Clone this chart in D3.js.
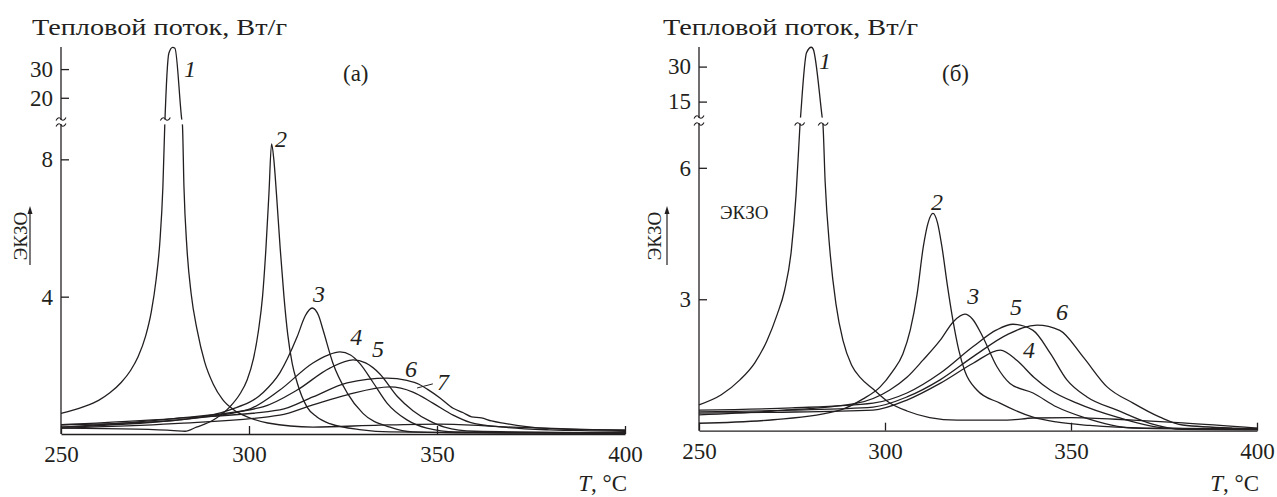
<!DOCTYPE html>
<html>
<head>
<meta charset="utf-8">
<script src="https://cdn.jsdelivr.net/npm/d3@7"></script>
<style>
body { margin: 0; background: #fff; }
text { font-family: "Liberation Serif", "Times New Roman", serif; fill: #231f20; }
</style>
</head>
<body>
<svg id="chart" width="1277" height="497"></svg>
<script>
// axis ticks
const tempTicks = [250, 300, 350, 400]
const fluxTicksA = [4, 8, 20, 30]
const fluxTicksB = [3, 6, 15, 30]

// panel (а): [T, heat flow W/g]
const curveA1 = [[250,0.6],[255.9,0.79],[260,0.98],[263,1.2],[266,1.5],[268.5,1.85],[270.5,2.25],[272.5,2.85],[274,3.55],[275.3,4.5],[276.3,5.6],[277.1,7.2],[277.6,9],[278.7,35.6],[279.7,37.6],[280.3,37.3],[282.1,12.6],[282.3,9],[282.7,7.2],[283.5,5.4],[284.6,4.1],[286.2,3.03],[288.2,2.1],[290.5,1.45],[293,1.0],[296,0.7],[300,0.48],[305,0.32],[317,0.2],[334.8,0.26],[350.8,0.29],[370,0.2],[400,0.1]]
const curveA2 = [[250,0.17],[270,0.14],[280,0.1],[283,0.08],[286,0.2],[290.4,0.4],[294.9,0.79],[297.5,1.15],[299.5,1.57],[301.2,2.2],[302.5,3.0],[303.6,4.0],[304.5,5.4],[305.3,7.0],[306,8.45],[306.6,8.0],[307.3,7.0],[308.3,5.4],[309.3,4.0],[310.3,2.9],[311.5,2.05],[312.8,1.5],[315.4,0.79],[318,0.5],[321.5,0.3],[330,0.12],[337.5,0.06],[360,0.04],[400,0.03]]
const curveA3 = [[250,0.27],[270,0.33],[281.6,0.41],[294.9,0.7],[303.7,1.2],[308.2,1.78],[312.8,2.83],[315,3.45],[316.8,3.67],[318.5,3.45],[319.7,3.03],[322.3,2.07],[326.1,1.2],[330.3,0.6],[337.5,0.2],[343.6,0.06],[360,0.03],[400,0.02]]
const curveA4 = [[250,0.2],[280,0.4],[299.5,0.7],[308.2,1.28],[317,2.07],[321,2.3],[324.2,2.39],[327,2.3],[329.5,2.05],[333,1.5],[336.7,0.9],[342,0.41],[347.3,0.17],[355,0.06],[400,0.03]]
const curveA5 = [[250,0.2],[280,0.45],[303.7,0.79],[312.8,1.28],[321.5,1.92],[327.7,2.16],[331,2.07],[334.8,1.75],[339.4,1.1],[343.6,0.68],[348,0.38],[352,0.2],[360,0.08],[400,0.03]]
const curveA6 = [[250,0.27],[280,0.45],[308.2,0.7],[317,1.08],[326.1,1.49],[336.7,1.63],[342,1.56],[345.2,1.45],[347.5,1.3],[350.8,1.05],[354.3,0.75],[357,0.62],[359.2,0.5],[361.8,0.47],[364.5,0.38],[368,0.31],[376.6,0.18],[388,0.13],[400,0.12]]
const curveA7 = [[250,0.17],[280,0.3],[308.2,0.55],[317,0.85],[326.1,1.14],[337.5,1.37],[343.6,1.22],[348.9,0.9],[354.3,0.55],[358.8,0.34],[367.6,0.2],[380,0.12],[400,0.08]]

// panel (б)
const curveB1 = [[250,0.59],[256,0.82],[261,1.16],[265,1.55],[268.3,2.06],[271,2.65],[273,3.2],[274.8,4.1],[276.1,5.4],[276.9,6.6],[277.2,7.4],[277.3,8.4],[278.9,35.9],[280.2,38.3],[280.7,37.5],[283.1,8.4],[283.3,7.2],[283.9,5.7],[285.2,4.1],[286.8,2.9],[288.7,2.06],[291,1.5],[293.5,1.2],[296.8,0.95],[301,0.65],[305.9,0.45],[312,0.3],[319.4,0.24],[332.8,0.24],[339.8,0.29],[350,0.3],[366.7,0.24],[380,0.18],[400,0.06]]
const curveB2 = [[250,0.17],[270,0.25],[287.9,0.47],[294,0.72],[298.7,1.0],[302,1.35],[304.8,1.75],[306.8,2.3],[308.6,3.1],[310.3,4.2],[311.6,4.75],[312.9,4.96],[314.1,4.75],[315.3,4.2],[316.8,3.3],[318.3,2.5],[319.8,1.85],[321.5,1.35],[324.7,0.93],[330.9,0.63],[339.8,0.31],[346,0.2],[355,0.12],[370,0.06],[400,0.04]]
const curveB3 = [[250,0.36],[270,0.45],[292.5,0.63],[301.3,0.93],[305.9,1.22],[310.2,1.61],[314.8,2.06],[318.5,2.5],[321.5,2.66],[323.5,2.55],[326.3,2.14],[330.1,1.46],[333.6,1.08],[339.8,0.86],[346.2,0.54],[353.2,0.31],[366.7,0.06],[400,0.03]]
const curveB4 = [[250,0.4],[270,0.42],[296.8,0.47],[305.9,0.7],[314.8,1.08],[323.7,1.54],[331,1.84],[335.5,1.6],[340,1.22],[344.4,0.93],[351.6,0.63],[362.4,0.31],[375.8,0.06],[400,0.03]]
const curveB5 = [[250,0.47],[275,0.52],[296.8,0.63],[305.9,0.86],[314.8,1.31],[323.7,1.92],[330,2.3],[334.4,2.43],[339.8,2.29],[344.4,1.77],[348.9,1.16],[354.3,0.77],[362.4,0.47],[371.2,0.17],[380,0.03],[400,0.02]]
const curveB6 = [[250,0.43],[275,0.47],[296.8,0.54],[305.9,0.77],[314.8,1.16],[323.7,1.69],[333,2.2],[340.9,2.41],[347,2.29],[353.2,1.69],[359.7,1.0],[366.7,0.63],[373.9,0.31],[380,0.13],[393.5,0.06],[400,0.05]]

// curve numbers and where they sit, [name, T, flux]
const labelsA = [["1",284.3,27.2],["2",308.5,8.36],["3",318.6,3.85],["4",328.5,2.59],["5",334.3,2.24],["6",343.1,1.66],["7",351.6,1.28]]
const labelsB = [["1",283.9,29],["2",314,5.04],["3",323.7,2.9],["5",335.2,2.64],["6",347.6,2.53],["4",338.7,1.66]]
const leaderA7 = [[344.7,1.34],[348.9,1.46]]

const svg = d3.select("#chart")

const panels = [
    {curves:[curveA1,curveA2,curveA3,curveA4,curveA5,curveA6,curveA7], ticks: fluxTicksA, labels: labelsA,
     left: 61, right: 625, yDomain: [0, 9, 12.6, 37.7], yRange: [434, 125, 119, 47],
     tag: "(а)", tagX: 343, titleX: 32, exoX: 27, arrowX: 30},
    {curves:[curveB1,curveB2,curveB3,curveB4,curveB5,curveB6], ticks: fluxTicksB, labels: labelsB,
     left: 699, right: 1257, yDomain: [0, 7, 8.4, 38.4], yRange: [430.7, 124, 117, 47],
     tag: "(б)", tagX: 942, titleX: 663, exoX: 661, arrowX: 667}
]

function crossings(data, v){
    var out = []
    for (var i = 1; i < data.length; i++){
        var a = data[i-1], b = data[i]
        if ((a[1]-v)*(b[1]-v) < 0) out.push(a[0] + (b[0]-a[0])*(v-a[1])/(b[1]-a[1]))
    }
    return out
}

function tilde(cx, cy){
    return "M"+(cx-5)+","+(cy+1.5)+" C"+(cx-3)+","+(cy-2.5)+" "+(cx-1)+","+(cy-1.5)+" "+cx+","+cy
        +" S"+(cx+3)+","+(cy+2.5)+" "+(cx+5)+","+(cy-1.5)
}

panels.forEach(function(p, pi){
    var x = d3.scaleLinear().domain([250, 400]).range([p.left, p.right])
    var y = d3.scaleLinear().domain(p.yDomain).range(p.yRange)
    var g = svg.append("g")
    var bottom = y(0)

    var line = d3.line()
        .x(d => x(d[0]))
        .y(d => y(d[1]))
        .curve(d3.curveMonotoneX)

    g.selectAll(".curve")
        .data(p.curves)
        .join("path")
        .attr("class", "curve")
        .attr("d", line)
        .attr("fill", "none")
        .attr("stroke", "#231f20")
        .attr("stroke-width", 1.3)

    // cut the curves at the axis break
    var lo = p.yDomain[1], hi = p.yDomain[2]
    g.append("rect")
        .attr("x", p.left - 8).attr("y", y(hi) + 0.6)
        .attr("width", p.right - p.left + 8).attr("height", y(lo) - y(hi) - 1.2)
        .attr("fill", "#fff")

    var marks = [[p.left, lo], [p.left, hi]]
    crossings(p.curves[0], lo).forEach(t => marks.push([x(t), lo]))
    crossings(p.curves[0], hi).forEach(t => marks.push([x(t), hi]))
    g.selectAll(".brk")
        .data(marks)
        .join("path")
        .attr("class", "brk")
        .attr("d", d => tilde(d[0], y(d[1])))
        .attr("fill", "none")
        .attr("stroke", "#231f20")
        .attr("stroke-width", 1.1)

    // x axis
    var xa = g.append("g")
        .attr("transform", "translate(0," + bottom + ")")
        .call(d3.axisBottom(x).tickValues(tempTicks).tickSize(-8).tickSizeOuter(0).tickPadding(12))
    xa.selectAll("text").style("font-size", "23px").attr("font-family", null)
    xa.selectAll("line,path").attr("stroke", "#231f20").attr("stroke-width", 1.3)

    // y axis, drawn in two pieces around the break
    var ya = g.append("g")
        .attr("transform", "translate(" + p.left + ",0)")
        .call(d3.axisLeft(y).tickValues(p.ticks).tickSize(-8).tickPadding(8).tickFormat(d3.format("d")))
    ya.select(".domain").remove()
    ya.selectAll("text").style("font-size", "23px").attr("font-family", null)
    ya.selectAll("line").attr("stroke", "#231f20").attr("stroke-width", 1.3)
    g.append("line")
        .attr("x1", p.left).attr("x2", p.left)
        .attr("y1", bottom).attr("y2", y(lo) - 1)
        .attr("stroke", "#231f20").attr("stroke-width", 1.3)
    g.append("line")
        .attr("x1", p.left).attr("x2", p.left)
        .attr("y1", y(hi) + 1).attr("y2", y(p.yDomain[3]))
        .attr("stroke", "#231f20").attr("stroke-width", 1.3)

    // curve numbers
    g.selectAll(".lbl")
        .data(p.labels)
        .join("text")
        .attr("class", "lbl")
        .attr("x", d => x(d[1]))
        .attr("y", d => y(d[2]))
        .attr("text-anchor", "middle")
        .style("font-size", "24px")
        .style("font-style", "italic")
        .text(d => d[0])

    if (pi == 0){
        g.append("line")
            .attr("x1", x(leaderA7[0][0])).attr("y1", y(leaderA7[0][1]))
            .attr("x2", x(leaderA7[1][0])).attr("y2", y(leaderA7[1][1]))
            .attr("stroke", "#231f20").attr("stroke-width", 1)
    } else {
        g.append("text")
            .attr("x", 720).attr("y", 219)
            .style("font-size", "27px")
            .style("font-variant", "small-caps")
            .text("экзо")
    }

    // titles
    g.append("text")
        .attr("x", p.titleX).attr("y", 35)
        .attr("textLength", 255)
        .attr("lengthAdjust", "spacingAndGlyphs")
        .style("font-size", "23px")
        .text("Тепловой поток, Вт/г")
    g.append("text")
        .attr("x", p.tagX).attr("y", 81)
        .style("font-size", "23px")
        .text(p.tag)
    var ax = g.append("text")
        .attr("x", p.right + 2).attr("y", 491)
        .attr("text-anchor", "end")
        .style("font-size", "23px")
    ax.append("tspan").style("font-style", "italic").text("T")
    ax.append("tspan").text(", °C")

    // rotated "экзо" with the arrow
    g.append("text")
        .attr("transform", "translate(" + p.exoX + ",236) rotate(-90)")
        .attr("text-anchor", "middle")
        .style("font-size", "27px")
        .style("font-variant", "small-caps")
        .text("экзо")
    g.append("line")
        .attr("x1", p.arrowX).attr("x2", p.arrowX)
        .attr("y1", 265).attr("y2", 212)
        .attr("stroke", "#231f20").attr("stroke-width", 1.2)
    g.append("path")
        .attr("d", "M" + (p.arrowX - 2.5) + ",214 L" + p.arrowX + ",206 L" + (p.arrowX + 2.5) + ",214 Z")
        .attr("fill", "#231f20")
})
</script>
</body>
</html>
